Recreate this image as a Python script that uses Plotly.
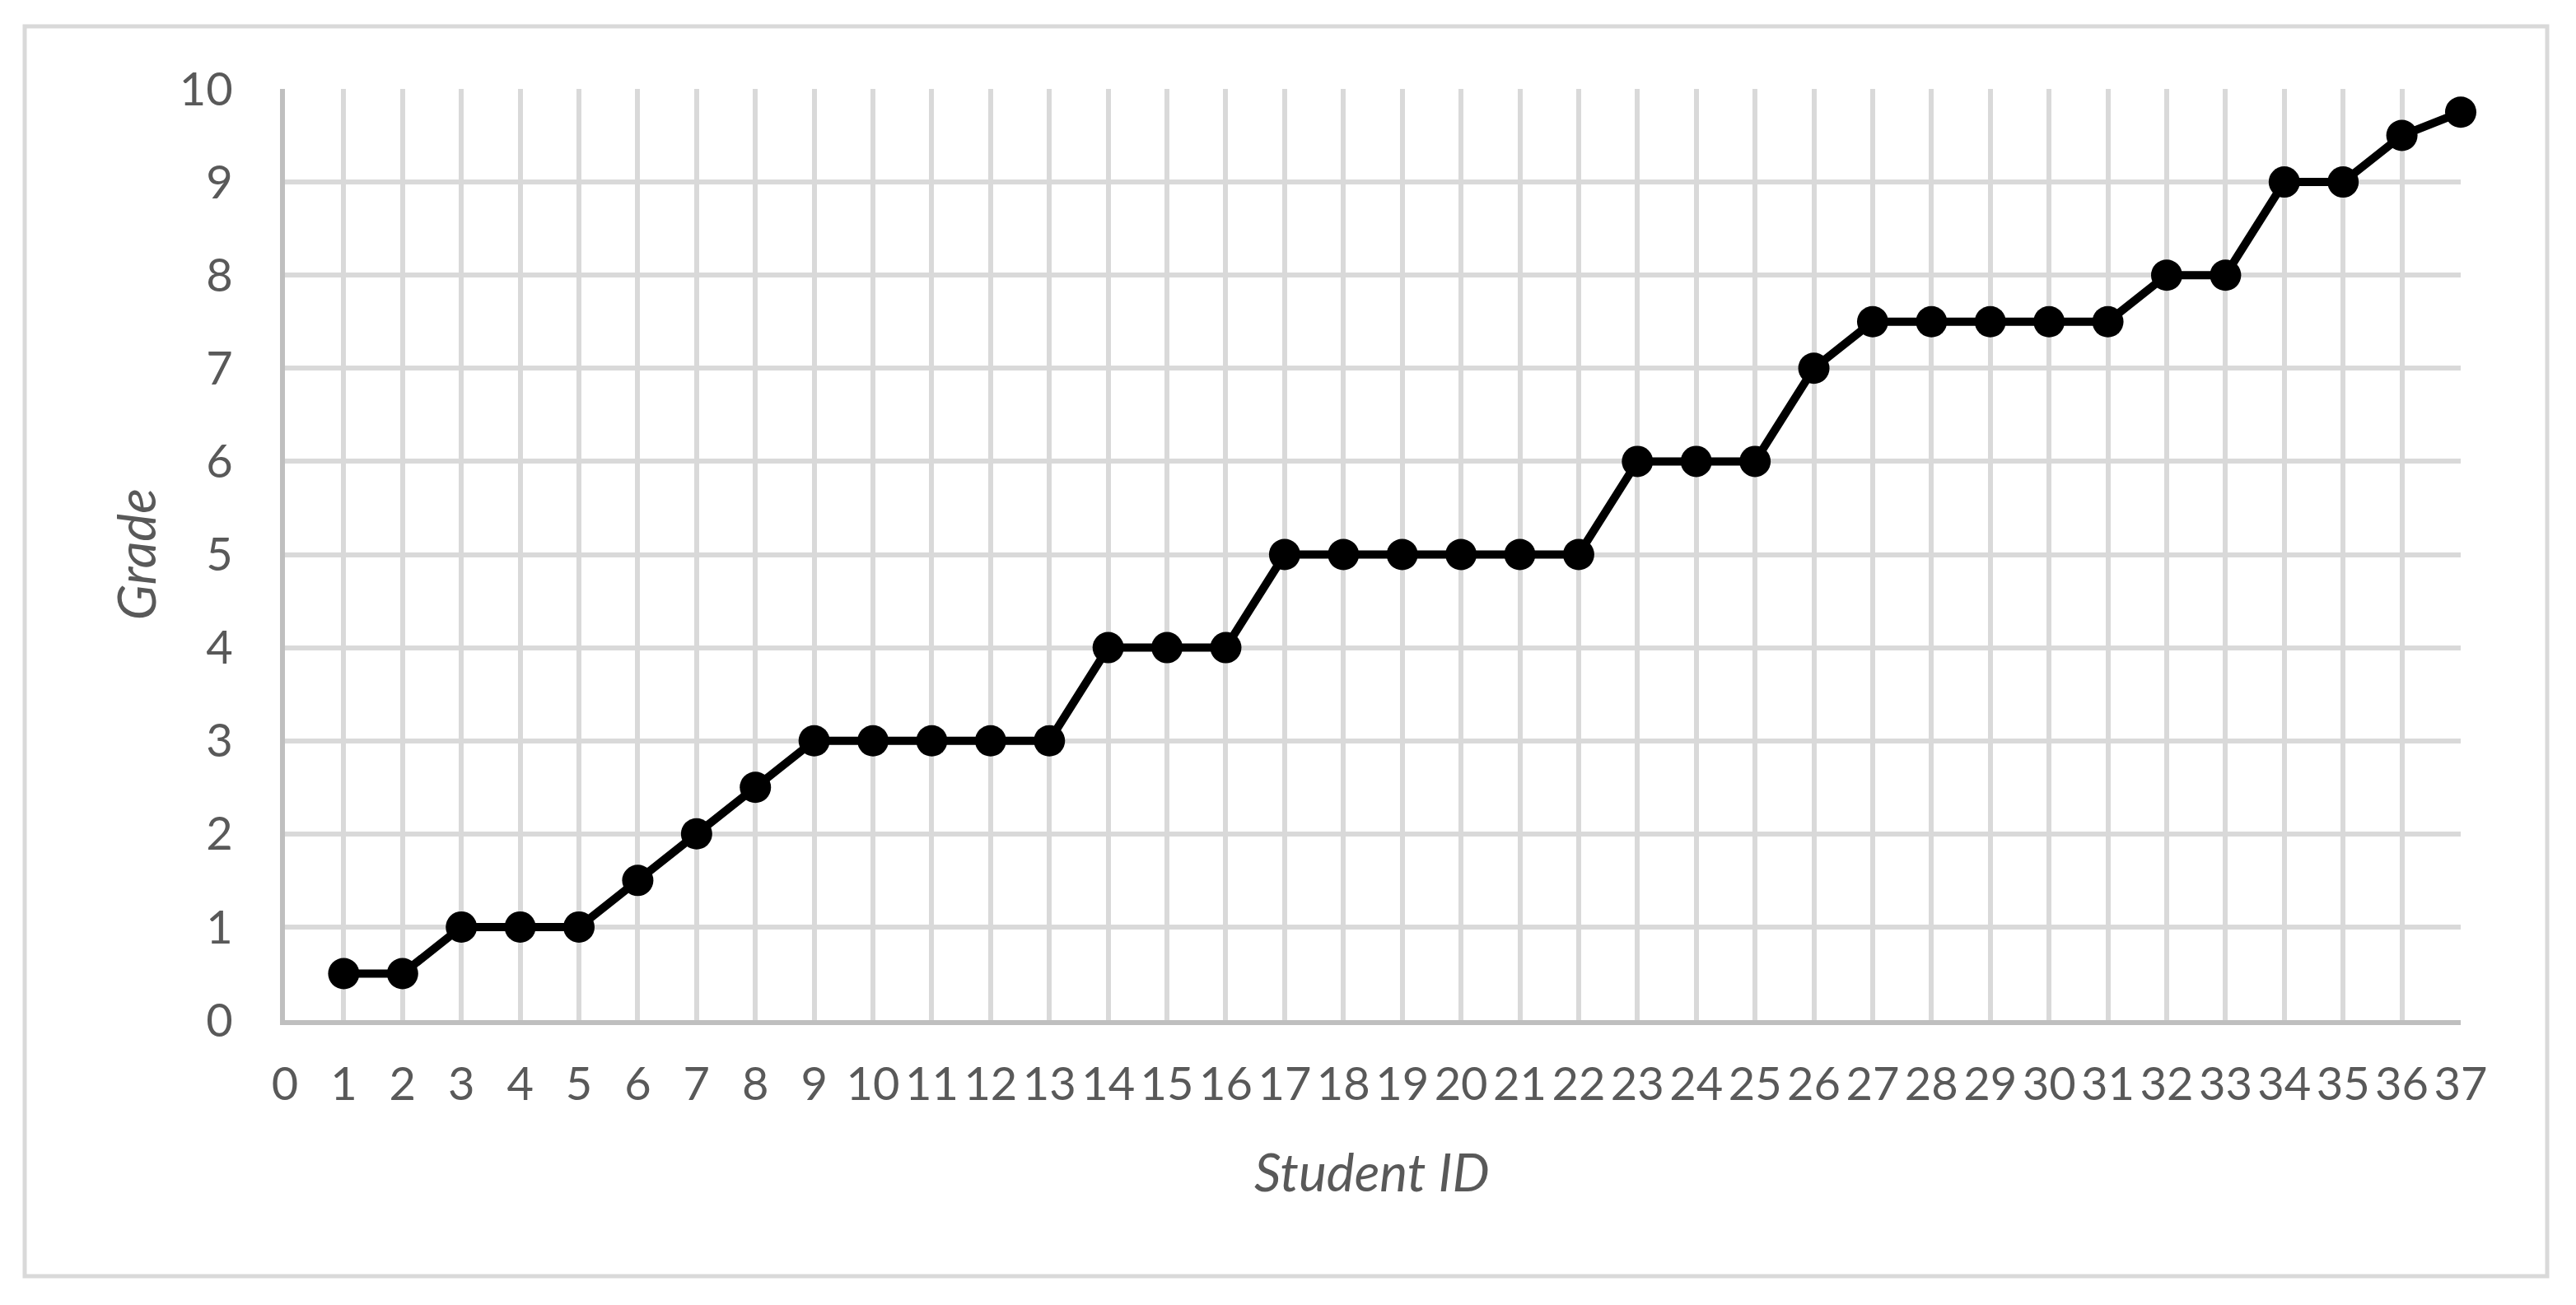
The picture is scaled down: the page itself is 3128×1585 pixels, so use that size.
import plotly.graph_objects as go

student_id = list(range(1, 38))
grades = [0.5, 0.5, 1, 1, 1, 1.5, 2, 2.5, 3, 3, 3, 3, 3, 4, 4, 4,
          5, 5, 5, 5, 5, 5, 6, 6, 6, 7, 7.5, 7.5, 7.5, 7.5, 7.5,
          8, 8, 9, 9, 9.5, 9.75]
x_ticks = list(range(0, 38))
y_ticks = list(range(0, 11))

W, H = 3128, 1585
OFF = 8  # page body offset
# target screen positions of plot area
PX0, PX1, PY0, PY1 = 346, 2988, 108, 1239
L, T = PX0 - OFF, PY0 - OFF
R, B = W - (PX1 - OFF), H - (PY1 - OFF)
pw, ph = PX1 - PX0, PY1 - PY0

def px_x(p):
    return (p - PX0) / pw

def px_y(p):
    return (PY1 - p) / ph

fig = go.Figure()
fig.add_trace(go.Scatter(
    x=student_id, y=grades, mode="lines+markers",
    line=dict(color="black", width=10),
    marker=dict(color="black", size=38),
    cliponaxis=False, showlegend=False,
))

font = "Lato, 'Noto Sans', sans-serif"
fig.update_layout(
    width=W, height=H,
    margin=dict(l=L, r=R, t=T, b=B),
    paper_bgcolor="white", plot_bgcolor="white",
    font=dict(family=font, color="#595959", size=56),
    xaxis=dict(range=[0, 37], tickvals=x_ticks, ticktext=[str(v) for v in x_ticks],
               showgrid=True, gridcolor="#d9d9d9", gridwidth=6,
               showline=True, linecolor="#bfbfbf", linewidth=6,
               zeroline=False, ticks="", ticklabelstandoff=24,
               tickfont=dict(size=56, color="#595959")),
    yaxis=dict(range=[0, 10], tickvals=y_ticks, ticktext=[str(v) for v in y_ticks],
               showgrid=True, gridcolor="#d9d9d9", gridwidth=6,
               showline=True, linecolor="#bfbfbf", linewidth=6,
               zeroline=False, ticks="", ticklabelstandoff=46,
               tickfont=dict(size=56, color="#595959")),
    shapes=[dict(type="rect", xref="paper", yref="paper",
                 x0=px_x(30), x1=px_x(3093), y0=px_y(1550), y1=px_y(32),
                 line=dict(color="#d9d9d9", width=5), layer="below")],
    annotations=[
        dict(text="<i>Grade</i>", xref="paper", yref="paper",
             x=px_x(164), y=0.5, textangle=-90, showarrow=False,
             font=dict(size=64, color="#595959", family=font),
             xanchor="center", yanchor="middle"),
        dict(text="<i>Student ID</i>", xref="paper", yref="paper",
             x=px_x(1666), y=px_y(1422), showarrow=False,
             font=dict(size=64, color="#595959", family=font),
             xanchor="center", yanchor="middle"),
    ],
)

fig.write_html("out.html")
